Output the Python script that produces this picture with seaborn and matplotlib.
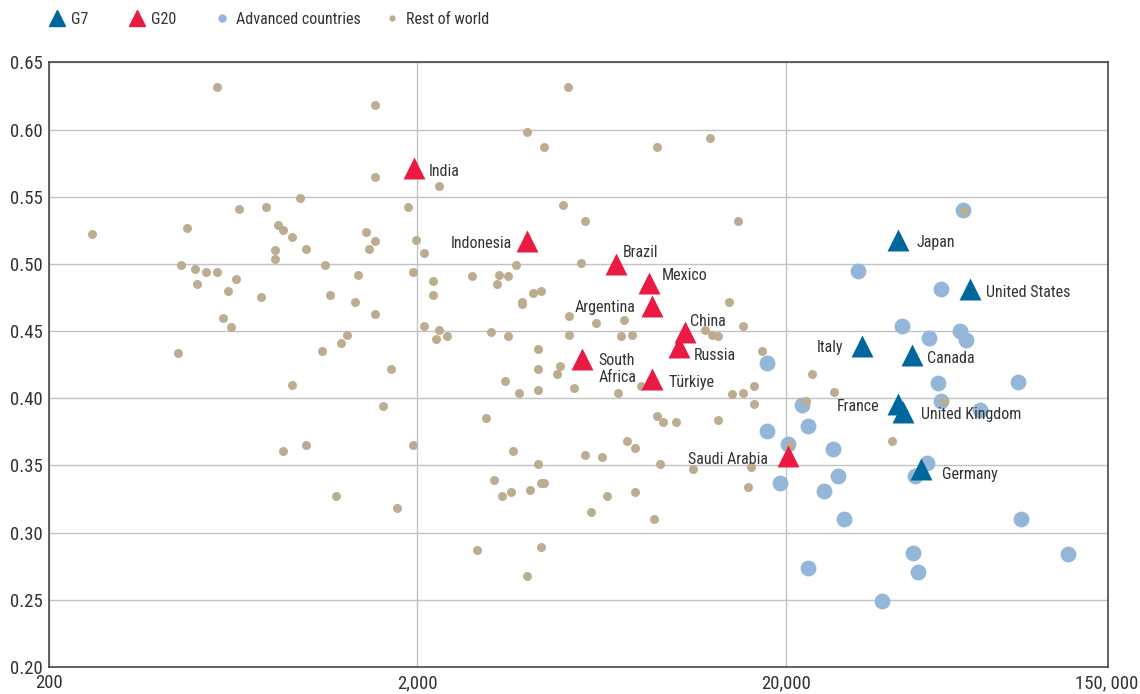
import matplotlib
matplotlib.use("Agg")
import matplotlib.pyplot as plt
import seaborn as sns
import pandas as pd
from matplotlib import font_manager
from matplotlib.lines import Line2D
from matplotlib.transforms import ScaledTranslation

# GDP per capita (log scale) vs. index value
rest_gdp = [571, 1530, 1530, 262, 472, 655, 778, 960, 834, 864, 911, 820, 820, 994,
            1453, 1530, 1477, 1882, 1984, 1950, 455, 497, 532, 571, 505, 644, 611,
            753, 591, 623, 1119, 1160, 1379, 1356, 1530, 448, 1101, 1243, 1288, 1697,
            911, 1614, 864, 994, 1947, 1202, 1757,
            5138, 3966, 4402, 8933, 12450, 2281, 4968, 5702, 14810, 2089, 3701, 5549,
            2201, 2201, 2805, 3336, 3514, 3280, 4110, 4328, 3836, 3836, 5149, 6124,
            7279, 7143, 7651, 14050, 15300, 12090, 12630, 13090, 2089, 2281, 2239,
            2403, 3165, 3514, 5149, 4248, 17240, 4248, 4875, 4796, 3455, 3765, 4258,
            5322, 7027, 8097, 14290, 15300, 16400, 16400, 3061, 8933, 9275, 10080,
            13120, 3641, 5702, 6330, 7402, 7798, 20550, 4248, 9101, 11190, 16090,
            3226, 3399, 3581, 4033, 4320, 4410, 6560, 7798, 15820, 5909, 8782, 2907,
            4328, 3966,
            61090, 23590, 27130, 22750, 53890, 38990]
rest_val = [0.632, 0.618, 0.565, 0.522, 0.527, 0.541, 0.542, 0.549, 0.529, 0.525, 0.520,
            0.510, 0.504, 0.511, 0.524, 0.517, 0.511, 0.542, 0.518, 0.494, 0.499, 0.496,
            0.494, 0.494, 0.485, 0.489, 0.480, 0.475, 0.460, 0.453, 0.499, 0.477, 0.492,
            0.472, 0.463, 0.434, 0.435, 0.441, 0.447, 0.422, 0.410, 0.394, 0.361, 0.365,
            0.365, 0.327, 0.318,
            0.632, 0.598, 0.587, 0.587, 0.594, 0.558, 0.544, 0.532, 0.532, 0.508, 0.499,
            0.501, 0.487, 0.477, 0.491, 0.492, 0.491, 0.485, 0.478, 0.480, 0.472, 0.470,
            0.461, 0.456, 0.458, 0.446, 0.447, 0.472, 0.454, 0.451, 0.447, 0.446, 0.454,
            0.451, 0.444, 0.446, 0.449, 0.446, 0.447, 0.437, 0.435, 0.422, 0.424, 0.418,
            0.413, 0.404, 0.406, 0.408, 0.404, 0.409, 0.403, 0.404, 0.409, 0.396, 0.385,
            0.387, 0.382, 0.382, 0.384, 0.361, 0.358, 0.356, 0.368, 0.363, 0.365, 0.351,
            0.351, 0.347, 0.349, 0.339, 0.327, 0.330, 0.332, 0.337, 0.337, 0.327, 0.330,
            0.334, 0.315, 0.310, 0.287, 0.289, 0.268,
            0.539, 0.418, 0.405, 0.398, 0.398, 0.368]

adv_gdp = [60600, 31400, 52780, 41420, 49140, 59570, 61580, 17760, 51810, 85510, 22190,
           52660, 67220, 17760, 23000, 26850, 20330, 48450, 44940, 19340, 27800, 25470,
           28820, 87290, 44380, 116900, 23000, 45870, 36610]
adv_val = [0.540, 0.495, 0.481, 0.454, 0.445, 0.450, 0.443, 0.426, 0.411, 0.412, 0.395,
           0.398, 0.391, 0.376, 0.379, 0.362, 0.366, 0.352, 0.342, 0.337, 0.342, 0.331,
           0.310, 0.310, 0.285, 0.284, 0.274, 0.271, 0.249]

g20_names = ["India", "Indonesia", "Brazil", "Mexico", "Argentina", "China", "Russia",
             "South\nAfrica", "Türkiye", "Saudi Arabia"]
g20_gdp = [1954, 3966, 6910, 8496, 8642, 10620, 10270, 5610, 8642, 20250]
g20_val = [0.571, 0.517, 0.500, 0.486, 0.469, 0.449, 0.438, 0.429, 0.414, 0.357]

g7_names = ["Japan", "United States", "Italy", "Canada", "France", "United Kingdom", "Germany"]
g7_gdp = [40320, 63310, 32250, 44030, 40320, 41760, 46460]
g7_val = [0.518, 0.481, 0.439, 0.432, 0.396, 0.390, 0.347]

x_ticks = [200, 2000, 20000, 150000]
x_tick_labels = ["200", "2,000", "20,000", "150, 000"]
y_ticks = [0.20, 0.25, 0.30, 0.35, 0.40, 0.45, 0.50, 0.55, 0.60, 0.65]

# label offsets in points (dx, dy, ha)
label_pos = {
    "India": (10.8, -2, "left"), "Indonesia": (-10.8, -1.5, "right"),
    "Brazil": (5, 8, "left"), "Mexico": (9.4, 5, "left"),
    "Argentina": (-11.5, -1.5, "right"), "China": (4.3, 8, "left"),
    "Russia": (10.8, -5.8, "left"), "South\nAfrica": (11.5, -7.2, "left"),
    "Türkiye": (12.3, -2.2, "left"), "Saudi Arabia": (-14.4, -2.2, "right"),
    "Japan": (13.7, -2.2, "left"), "United States": (11.5, -2, "left"),
    "Italy": (-13.7, -1.2, "right"), "Canada": (10.8, -2, "left"),
    "France": (-13, -2, "right"), "United Kingdom": (12.3, -2, "left"),
    "Germany": (15.4, -3.4, "left"),
}

TAN = "#bcad90"
LIGHT_BLUE = "#93b6d9"
DARK_BLUE = "#00679c"
RED = "#ea1a42"
TEXT = "#333333"

sns.set_style("white")

# pick a condensed sans face if one is installed (the original uses a narrow font)
narrow = [f for f in font_manager.fontManager.ttflist
          if f.stretch in ("condensed", "semi-condensed", "extra-condensed")
          and f.style == "normal" and f.weight in (400, "normal", "regular", "book")]
preferred = ["Roboto Condensed", "Liberation Sans Narrow", "DejaVu Sans", "Open Sans", "Noto Sans"]
narrow.sort(key=lambda f: preferred.index(f.name) if f.name in preferred else 99)
if narrow:
    plt.rcParams["font.family"] = [narrow[0].name, "DejaVu Sans"]
    plt.rcParams["font.stretch"] = narrow[0].stretch
else:
    plt.rcParams["font.family"] = ["DejaVu Sans"]

fig = plt.figure(figsize=(11.4, 6.94), dpi=100)
ax = fig.add_axes([0.0432, 0.0389, 0.9287, 0.8713])

rest = pd.DataFrame({"gdp": rest_gdp, "val": rest_val})
adv = pd.DataFrame({"gdp": adv_gdp, "val": adv_val})
g20 = pd.DataFrame({"name": g20_names, "gdp": g20_gdp, "val": g20_val})
g7 = pd.DataFrame({"name": g7_names, "gdp": g7_gdp, "val": g7_val})

sns.scatterplot(data=adv, x="gdp", y="val", color=LIGHT_BLUE, s=130, linewidth=0,
                ax=ax, zorder=3)
sns.scatterplot(data=rest, x="gdp", y="val", color=TAN, s=42, linewidth=0,
                ax=ax, zorder=4)
sns.scatterplot(data=g20, x="gdp", y="val", color=RED, marker="^", s=250, linewidth=0,
                ax=ax, zorder=5)
sns.scatterplot(data=g7, x="gdp", y="val", color=DARK_BLUE, marker="^", s=250, linewidth=0,
                ax=ax, zorder=5)

for df in (g20, g7):
    for _, row in df.iterrows():
        dx, dy, ha = label_pos[row["name"]]
        ax.annotate(row["name"], (row["gdp"], row["val"]), xytext=(dx, dy),
                    textcoords="offset points", ha=ha, va="center", fontsize=11.5,
                    color=TEXT, linespacing=1.2, zorder=6)

ax.set_xscale("log")
ax.set_xlim(200, 150000)
ax.set_ylim(0.20, 0.65)
ax.set_xticks(x_ticks)
ax.set_xticklabels(x_tick_labels)
ax.minorticks_off()
ax.set_yticks(y_ticks)
ax.set_yticklabels([f"{v:.2f}" for v in y_ticks])
ax.tick_params(length=0, labelsize=13.5, labelcolor=TEXT, pad=5)
ax.set_xlabel("")
ax.set_ylabel("")
ax.grid(True, color="#c2c2c2", linewidth=1.0, zorder=0)
ax.set_axisbelow(True)
for sp in ax.spines.values():
    sp.set_color("#3a3a3a")
    sp.set_linewidth(1.1)

# last x label sits against the right edge, as in the original
last = ax.get_xticklabels()[-1]
last.set_horizontalalignment("right")
last.set_transform(last.get_transform() + ScaledTranslation(0.30, 0, fig.dpi_scale_trans))

# legend: one small legend per entry so each sits where it does in the original
entries = [
    ("G7", Line2D([], [], marker="^", color=DARK_BLUE, linestyle="", markersize=11), 0.0444),
    ("G20", Line2D([], [], marker="^", color=RED, linestyle="", markersize=11), 0.1146),
    ("Advanced countries", Line2D([], [], marker="o", color=LIGHT_BLUE, linestyle="", markersize=5), 0.1891),
    ("Rest of world", Line2D([], [], marker="o", color=TAN, linestyle="", markersize=3.5), 0.3382),
]
for label, handle, x0 in entries:
    fig.legend([handle], [label], loc="center left", bbox_to_anchor=(x0, 0.9726),
               frameon=False, fontsize=11.5, handlelength=0.8, handletextpad=0.45,
               borderpad=0, borderaxespad=0, labelcolor=TEXT)

fig.savefig("out.png", dpi=100)
